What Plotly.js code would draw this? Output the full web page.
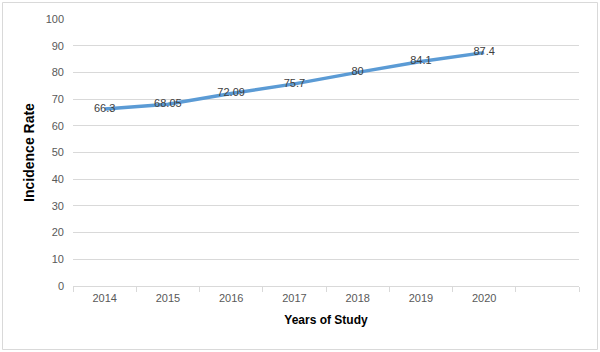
<!DOCTYPE html>
<html>
<head>
<meta charset="utf-8">
<script src="https://cdn.plot.ly/plotly-3.0.1.min.js"></script>
<style>html,body{margin:0;padding:0;background:#fff;}#chart{width:600px;height:352px;}</style>
</head>
<body>
<div id="chart"></div>
<script>
var years = ['2014', '2015', '2016', '2017', '2018', '2019', '2020'];
var incidence = [66.3, 68.05, 72.09, 75.7, 80, 84.1, 87.4];
var labels = ['66.3', '68.05', '72.09', '75.7', '80', '84.1', '87.4'];
var yTicks = [0, 10, 20, 30, 40, 50, 60, 70, 80, 90, 100];

var W = 600, H = 352;
var m = {l: 73, r: 21, t: 19, b: 66};
var pw = W - m.l - m.r, ph = H - m.t - m.b;
function px(x) { return (x - m.l) / pw; }
function py(y) { return (H - m.b - y) / ph; }

var trace = {
  x: years,
  y: incidence,
  text: labels,
  type: 'scatter',
  mode: 'lines+text',
  textposition: 'middle center',
  textfont: {family: 'Liberation Sans, Arial, sans-serif', size: 11, color: '#404040'},
  line: {color: '#5b9bd5', width: 3.5},
  hoverinfo: 'skip',
  cliponaxis: false
};

var layout = {
  width: W, height: H,
  margin: m,
  paper_bgcolor: '#ffffff',
  plot_bgcolor: '#ffffff',
  showlegend: false,
  font: {family: 'Liberation Sans, Arial, sans-serif', color: '#595959', size: 11},
  xaxis: {
    type: 'category',
    categoryorder: 'array',
    categoryarray: years.concat([' ']),
    range: [-0.5, years.length + 0.5],
    tickson: 'boundaries',
    ticks: 'outside',
    ticklen: 5,
    tickcolor: '#d9d9d9',
    tickwidth: 1,
    showline: true,
    linecolor: '#d9d9d9',
    linewidth: 1,
    showgrid: false,
    zeroline: false,
    tickfont: {size: 11, color: '#595959'},
    ticklabelstandoff: 2,
    title: {text: 'Years of Study', font: {size: 12, color: '#000000', family: 'Liberation Sans, Arial, sans-serif', weight: 'bold'}, standoff: 12}
  },
  yaxis: {
    range: [0, 100],
    tickvals: yTicks,
    ticktext: yTicks.map(String),
    showgrid: true,
    gridcolor: '#d9d9d9',
    gridwidth: 1,
    zeroline: false,
    showline: false,
    ticks: '',
    tickfont: {size: 11, color: '#595959'},
    ticklabelstandoff: 8,
    title: {text: 'Incidence Rate', font: {size: 14, color: '#000000', family: 'Liberation Sans, Arial, sans-serif', weight: 'bold'}, standoff: 7}
  },
  shapes: [{
    type: 'rect', xref: 'paper', yref: 'paper',
    x0: px(2.5), x1: px(597.5), y0: py(2.5), y1: py(349.5),
    line: {color: '#d9d9d9', width: 1}, fillcolor: 'rgba(0,0,0,0)', layer: 'below'
  }]
};

Plotly.newPlot('chart', [trace], layout, {displayModeBar: false, staticPlot: true});
</script>
</body>
</html>
